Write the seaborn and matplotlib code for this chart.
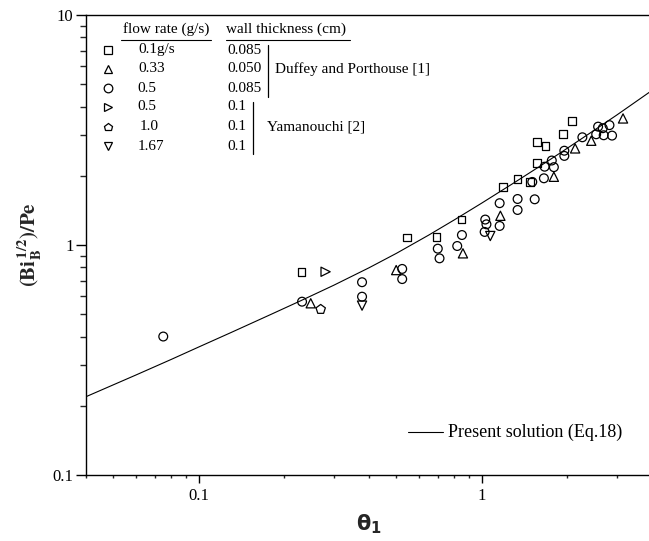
import matplotlib
matplotlib.use("Agg")
import matplotlib.pyplot as plt
from matplotlib.ticker import FixedLocator, FixedFormatter, LogLocator, NullFormatter
from matplotlib.lines import Line2D
import seaborn as sns
import pandas as pd

# ---- measured data -------------------------------------------------------
sq_theta = [0.231, 0.546, 0.692, 0.848, 1.19, 1.34, 1.48, 1.57, 1.57, 1.68, 1.94, 2.09]
sq_bi = [0.765, 1.08, 1.086, 1.29, 1.79, 1.94, 1.88, 2.27, 2.81, 2.69, 3.04, 3.47]

tri_theta = [0.249, 0.499, 0.859, 1.165, 1.80, 2.14, 2.44, 3.16]
tri_bi = [0.558, 0.778, 0.92, 1.34, 1.98, 2.63, 2.84, 3.55]

circ_theta = [0.075, 0.232, 0.378, 0.378, 0.524, 0.524, 0.70, 0.71, 0.82, 0.852,
              1.03, 1.04, 1.025, 1.158, 1.158, 1.34, 1.34, 1.51, 1.54, 1.66,
              1.67, 1.77, 1.80, 1.96, 1.96, 2.27, 2.58, 2.68, 2.83, 2.54, 2.70, 2.89]
circ_bi = [0.40, 0.567, 0.689, 0.596, 0.787, 0.711, 0.964, 0.875, 0.99, 1.105,
           1.29, 1.23, 1.14, 1.21, 1.52, 1.585, 1.42, 1.88, 1.58, 1.95,
           2.19, 2.33, 2.18, 2.57, 2.44, 2.94, 3.27, 3.22, 3.32, 3.03, 3.00, 2.99]

tr_theta = [0.281]
tr_bi = [0.765]

pent_theta = [0.27]
pent_bi = [0.525]

td_theta = [0.378, 1.073]
td_bi = [0.545, 1.094]

# present solution (Eq.18)
sol_theta = [0.04, 0.06, 0.08, 0.1, 0.13, 0.18, 0.23, 0.3, 0.4, 0.5, 0.65,
             0.8, 1.0, 1.3, 1.6, 1.9, 2.4, 3.0, 4.0]
sol_bi = [0.219, 0.272, 0.318, 0.360, 0.416, 0.499, 0.573, 0.668, 0.796, 0.920,
          1.104, 1.285, 1.520, 1.862, 2.193, 2.518, 3.05, 3.67, 4.70]

# legend table content
flow_rates = ["0.1g/s", "0.33", "0.5", "0.5", "1.0", "1.67"]
wall_thick = ["0.085", "0.050", "0.085", "0.1", "0.1", "0.1"]
markers = ["s", "^", "o", ">", "p", "v"]

# ---- styling -------------------------------------------------------------
sns.set_style("ticks")
plt.rcParams["font.family"] = ["Liberation Serif", "DejaVu Serif"]
plt.rcParams["mathtext.fontset"] = "stix"

W, H = 649, 541
fig = plt.figure(figsize=(W / 100, H / 100), dpi=100)
ax_l, ax_r, ax_t, ax_b = 86, 652, 15, 475
ax = fig.add_axes([ax_l / W, (H - ax_b) / H, (ax_r - ax_l) / W, (ax_b - ax_t) / H])

groups = [
    (sq_theta, sq_bi, "s", 30),
    (tri_theta, tri_bi, "^", 44),
    (circ_theta, circ_bi, "o", 40),
    (tr_theta, tr_bi, ">", 44),
    (pent_theta, pent_bi, "p", 50),
    (td_theta, td_bi, "v", 44),
]
for th, bi, mk, sz in groups:
    df = pd.DataFrame({"theta": th, "bi": bi})
    n_before = len(ax.collections)
    sns.scatterplot(data=df, x="theta", y="bi", marker=mk, s=sz, ax=ax,
                    legend=False, zorder=3)
    for coll in ax.collections[n_before:]:
        coll.set_facecolor("none")
        coll.set_edgecolor("black")
        coll.set_linewidth(0.9)

sol = pd.DataFrame({"theta": sol_theta, "bi": sol_bi})
sns.lineplot(data=sol, x="theta", y="bi", color="black", lw=0.8, ax=ax,
             sort=False, estimator=None, zorder=2)

ax.set_xscale("log")
ax.set_yscale("log")
ax.set_xlim(0.04, 4)
ax.set_ylim(0.1, 10)

ax.xaxis.set_major_locator(FixedLocator([0.1, 1, 10]))
ax.xaxis.set_major_formatter(FixedFormatter(["0.1", "1", "10"]))
ax.xaxis.set_minor_locator(LogLocator(base=10, subs=range(2, 10)))
ax.xaxis.set_minor_formatter(NullFormatter())
ax.yaxis.set_major_locator(FixedLocator([0.1, 1, 10]))
ax.yaxis.set_major_formatter(FixedFormatter(["0.1", "1", "10"]))
ax.yaxis.set_minor_locator(LogLocator(base=10, subs=range(2, 10)))
ax.yaxis.set_minor_formatter(NullFormatter())

ax.tick_params(axis="x", which="major", direction="out", length=5.4, width=1.0,
               labelsize=12, pad=4, colors="black")
ax.tick_params(axis="x", which="minor", direction="out", length=2.4, width=1.0)
ax.tick_params(axis="y", which="major", direction="out", length=7, width=1.0,
               labelsize=12, pad=2, colors="black")
ax.tick_params(axis="y", which="minor", direction="out", length=4.2, width=1.0)
ax.tick_params(top=False, right=False, which="both")
for side in ["left", "bottom", "top", "right"]:
    ax.spines[side].set_visible(True)
    ax.spines[side].set_linewidth(1.0)
    ax.spines[side].set_color("black")

xl = ax.set_xlabel(r"$\mathbf{\theta_1}$", fontsize=15, labelpad=6)
xl.set_math_fontfamily("dejavusans")
ax.set_ylabel(r"$\mathbf{(Bi_B^{\,1/2})/Pe}$", fontsize=15, labelpad=6)

# ---- legend table --------------------------------------------------------
def ax_xy(px, py):
    return (px - ax_l) / (ax_r - ax_l), (ax_b - py) / (ax_b - ax_t)

tkw = dict(transform=ax.transAxes, fontsize=11, va="center", color="black")
x, y = ax_xy(123, 29)
ax.text(x, y, "flow rate (g/s)", ha="left", **tkw)
x, y = ax_xy(226, 29)
ax.text(x, y, "wall thickness (cm)", ha="left", **tkw)
for x0, x1 in [(121, 211), (226, 350)]:
    a, yy = ax_xy(x0, 40)
    b, _ = ax_xy(x1, 40)
    ax.add_line(Line2D([a, b], [yy, yy], transform=ax.transAxes, color="black", lw=0.8))

row_y = [50, 69, 88, 107, 127, 146]
flow_x = [138, 138, 137, 137, 140, 138]
for mk, fr, wt, ry, fx in zip(markers, flow_rates, wall_thick, row_y, flow_x):
    mx, my = ax_xy(108, ry)
    ax.plot([mx], [my], marker=mk, ms=6.2, mfc="none", mec="black", mew=0.9,
            transform=ax.transAxes, ls="none", clip_on=False)
    x, y = ax_xy(fx, ry)
    ax.text(x, y, fr, ha="left", **tkw)
    x, y = ax_xy(227, ry)
    ax.text(x, y, wt, ha="left", **tkw)

for bx, y0, y1, label, lx, ly in [(268, 45, 97, "Duffey and Porthouse [1]", 275, 69),
                                   (253, 102, 154, "Yamanouchi [2]", 267, 127)]:
    a, ya = ax_xy(bx, y0)
    _, yb = ax_xy(bx, y1)
    ax.add_line(Line2D([a, a], [ya, yb], transform=ax.transAxes, color="black", lw=0.9))
    x, y = ax_xy(lx, ly)
    ax.text(x, y, label, ha="left", **tkw)

# solution key
a, yy = ax_xy(408, 432)
b, _ = ax_xy(443, 432)
ax.add_line(Line2D([a, b], [yy, yy], transform=ax.transAxes, color="black", lw=0.8))
x, y = ax_xy(448, 432)
ax.text(x, y, "Present solution (Eq.18)", transform=ax.transAxes, fontsize=13,
        va="center", ha="left", color="black")

fig.savefig("out.png", dpi=100)
